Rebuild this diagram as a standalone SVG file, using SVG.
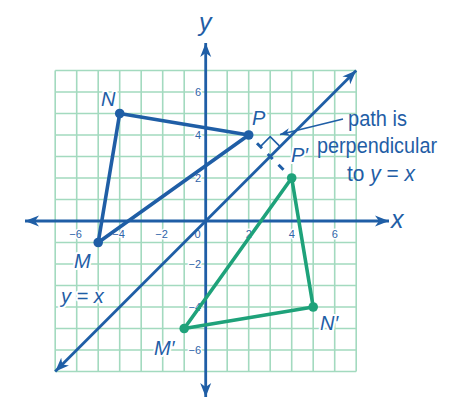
<svg xmlns="http://www.w3.org/2000/svg" width="450" height="402" viewBox="0 0 450 402">
<style>
.grid{fill:none;stroke:#a3dabf;stroke-width:1.6}
.axis{fill:none;stroke:#1f5ea6;stroke-width:2.8}
.tick{font-family:"Liberation Sans",Arial,sans-serif;font-size:11px;fill:#2f64a8;stroke:#fff;stroke-width:3;paint-order:stroke;stroke-linejoin:round}
.blue{fill:none;stroke:#1f5ea6;stroke-width:3.6;stroke-linejoin:round}
.green{fill:none;stroke:#1ea27a;stroke-width:3.6;stroke-linejoin:round}
.dotb{fill:#1f5ea6}
.dotg{fill:#1ea27a}
.lbl{font-family:"Liberation Sans",Arial,sans-serif;font-size:20px;font-style:italic;fill:#1f5ea6;stroke:#fff;stroke-width:4;paint-order:stroke;stroke-linejoin:round}
.call{font-family:"Liberation Sans",Arial,sans-serif;font-size:22px;fill:#1f5ea6;text-anchor:middle}
.axl{font-family:"Liberation Sans",Arial,sans-serif;font-size:25px;font-style:italic;fill:#1f5ea6}
</style>
<defs>
<marker id="arr" viewBox="-14 -6 15 12" refX="0" refY="0" markerWidth="15" markerHeight="12" markerUnits="userSpaceOnUse" orient="auto-start-reverse">
<path d="M0,0 L-14,-5.5 L-10,0 L-14,5.5 Z" fill="#1f5ea6"/>
</marker>
<marker id="sarr" viewBox="-10 -5 11 10" refX="0" refY="0" markerWidth="11" markerHeight="10" markerUnits="userSpaceOnUse" orient="auto">
<path d="M0,0 L-10,-4 L-7,0 L-10,4 Z" fill="#1f5ea6"/>
</marker>
</defs>
<rect width="450" height="402" fill="#fff"/>
<g id="grid">
<path class="grid" d="M55.2,70.5V371.5M76.7,70.5V371.5M98.2,70.5V371.5M119.7,70.5V371.5M141.2,70.5V371.5M162.7,70.5V371.5M184.2,70.5V371.5M227.2,70.5V371.5M248.7,70.5V371.5M270.2,70.5V371.5M291.7,70.5V371.5M313.2,70.5V371.5M334.7,70.5V371.5M356.2,70.5V371.5M55.2,70.5H356.2M55.2,92H356.2M55.2,113.5H356.2M55.2,135H356.2M55.2,156.5H356.2M55.2,178H356.2M55.2,199.5H356.2M55.2,242.5H356.2M55.2,264H356.2M55.2,285.5H356.2M55.2,307H356.2M55.2,328.5H356.2M55.2,350H356.2M55.2,371.5H356.2"/>
</g>
<g id="ticks">
<g class="tick" text-anchor="middle">
<text x="75.5" y="237.5">−6</text>
<text x="118.5" y="237.5">−4</text>
<text x="161.5" y="237.5">−2</text>
<text x="197.5" y="237.5">0</text>
<text x="248.7" y="237.5">2</text>
<text x="291.7" y="237.5">4</text>
<text x="334.7" y="237.5">6</text>
</g>
<g class="tick" text-anchor="end">
<text x="201" y="96">6</text>
<text x="201" y="139">4</text>
<text x="201" y="182">2</text>
<text x="201" y="268">−2</text>
<text x="201" y="311">−4</text>
<text x="201" y="354">−6</text>
</g>
</g>
<g id="axes">
<line class="axis" x1="25" y1="221" x2="389" y2="221" marker-start="url(#arr)" marker-end="url(#arr)"/>
<line class="axis" x1="205.7" y1="43" x2="205.7" y2="397" marker-start="url(#arr)" marker-end="url(#arr)"/>
<text class="axl" x="391" y="228">x</text>
<text class="axl" x="199" y="31">y</text>
</g>
<g id="connectors">
<line id="line-y-eq-x" class="axis" stroke-width="3.2" x1="55.2" y1="371.5" x2="356.2" y2="70.5" marker-start="url(#arr)" marker-end="url(#arr)"/>
<path id="tri-MNP" class="blue" d="M98.2,242.5L119.7,113.5L248.7,135Z"/>
<path id="tri-MNP-prime" class="green" d="M184.2,328.5L313.2,307L291.7,178Z"/>
<path id="path-PP" fill="none" stroke="#1f5ea6" stroke-width="3" d="M257,143.3L262,148.3M267.7,154L272.7,159M278.5,164.8L283.5,169.8"/>
<path id="right-angle" fill="none" stroke="#1f5ea6" stroke-width="1.6" d="M260.3,146.6L270.2,136.7L280.1,146.6"/>
<line id="leader" stroke="#1f5ea6" stroke-width="1.8" x1="343" y1="119" x2="280" y2="134.5" marker-end="url(#sarr)"/>
</g>
<g id="node-N"><circle class="dotb" cx="119.7" cy="113.5" r="4.8"/><text class="lbl" x="101" y="106">N</text></g>
<g id="node-P"><circle class="dotb" cx="248.7" cy="135" r="4.8"/><text class="lbl" x="252" y="125">P</text></g>
<g id="node-M"><circle class="dotb" cx="98.2" cy="242.5" r="4.8"/><text class="lbl" x="74" y="268">M</text></g>
<g id="node-P-prime"><circle class="dotg" cx="291.7" cy="178" r="4.8"/><text class="lbl" x="291" y="162">P′</text></g>
<g id="node-N-prime"><circle class="dotg" cx="313.2" cy="307" r="4.8"/><text class="lbl" x="320" y="330">N′</text></g>
<g id="node-M-prime"><circle class="dotg" cx="184.2" cy="328.5" r="4.8"/><text class="lbl" x="154" y="355">M′</text></g>
<g id="label-y-eq-x"><text class="lbl" font-style="normal" font-size="21" x="61" y="303"><tspan font-style="italic">y</tspan> = <tspan font-style="italic">x</tspan></text></g>
<g id="callout">
<text class="call" x="377.5" y="126" textLength="59" lengthAdjust="spacingAndGlyphs">path is</text>
<text class="call" x="377" y="153" textLength="120" lengthAdjust="spacingAndGlyphs">perpendicular</text>
<text class="call" x="381" y="181" textLength="68" lengthAdjust="spacingAndGlyphs">to <tspan font-style="italic">y</tspan> = <tspan font-style="italic">x</tspan></text>
</g>
</svg>
